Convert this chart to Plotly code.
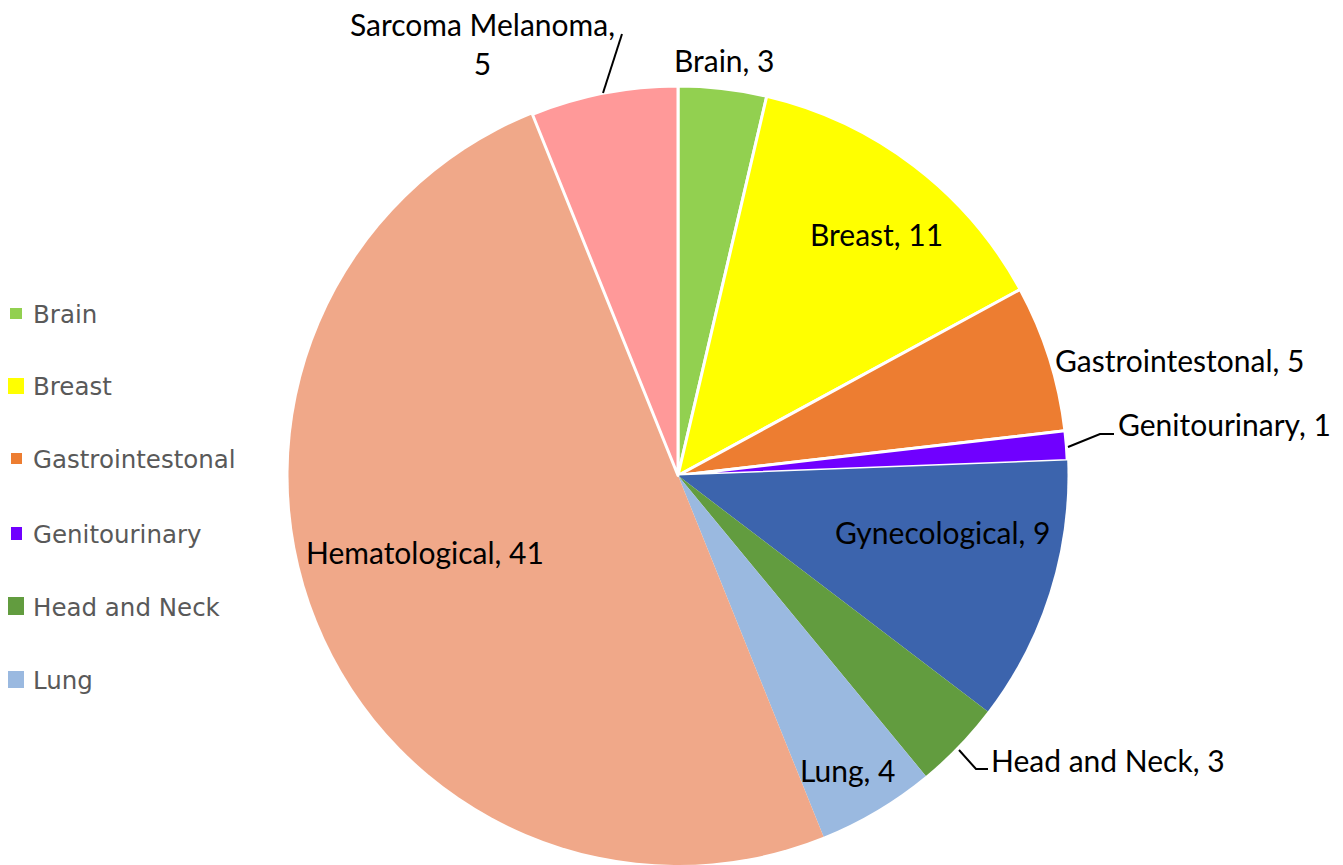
import plotly.graph_objects as go

# ---- data ----
labels = ["Brain", "Breast", "Gastrointestonal", "Genitourinary", "Gynecological",
          "Head and Neck", "Lung", "Hematological", "Sarcoma Melanoma"]
values = [3, 11, 5, 1, 9, 3, 4, 41, 5]
colors = ["#92D050", "#FFFF00", "#ED7D31", "#7000FF", "#3C64AD",
          "#629C3F", "#9AB9E0", "#F0A889", "#FF9999"]
legend_items = ["Brain", "Breast", "Gastrointestonal", "Genitourinary", "Head and Neck", "Lung"]

# ---- layout helpers (pixel geometry) ----
W, H = 1343, 865
def px(x):
    return x / W
def py(y):
    return 1 - y / H

line_widths = [3, 3, 3, 3, 0, 0, 0, 0, 3]

fig = go.Figure()
fig.add_trace(go.Pie(
    labels=labels, values=values, sort=False, direction="clockwise", rotation=0,
    marker=dict(colors=colors, line=dict(color="white", width=line_widths)),
    textinfo="none", hoverinfo="label+value", showlegend=False,
    domain=dict(x=[px(678 - 391), px(678 + 391)], y=[0, py(86)]),
))

# data label placement (pixel centres) and optional leader lines
label_pos = {
    "Brain": (724, 60),
    "Breast": (877, 234),
    "Gastrointestonal": (1179, 360),
    "Genitourinary": (1224, 424),
    "Gynecological": (942, 532),
    "Head and Neck": (1108, 760),
    "Lung": (848, 770),
    "Hematological": (425, 552),
    "Sarcoma Melanoma": (482, 43),
}
leaders = {
    "Sarcoma Melanoma": [(603, 93), (622, 34)],
    "Genitourinary": [(1068, 447), (1100, 434), (1114, 434)],
    "Head and Neck": [(959, 750), (976, 769), (988, 769)],
}

annotations = []
shapes = []
label_font = dict(family="Lato, 'Liberation Sans', sans-serif", size=30, color="black")
for lab, val in zip(labels, values):
    x, y = label_pos[lab]
    if lab == "Sarcoma Melanoma":
        txt = f"{lab},<br>{val}"
    else:
        txt = f"{lab}, {val}"
    annotations.append(dict(x=px(x), y=py(y), xref="paper", yref="paper", text=txt,
                            showarrow=False, xanchor="center", yanchor="middle",
                            font=label_font, align="center"))
for lab, pts in leaders.items():
    path = "M " + " L ".join(f"{px(a)},{py(b)}" for a, b in pts)
    shapes.append(dict(type="path", xref="paper", yref="paper", path=path,
                       line=dict(color="black", width=2)))

# custom legend (only listed entries)
legend_marker = {
    "Brain": (10, 308, 22, 319),
    "Breast": (8, 378, 24, 394),
    "Gastrointestonal": (11, 453, 22, 464),
    "Genitourinary": (11, 527, 22, 540),
    "Head and Neck": (8, 597, 24, 615),
    "Lung": (8, 671, 24, 688),
}
legend_font = dict(family="'DejaVu Sans', sans-serif", size=24.5, color="#595959")
for item in legend_items:
    x0, y0, x1, y1 = legend_marker[item]
    c = colors[labels.index(item)]
    shapes.append(dict(type="rect", xref="paper", yref="paper",
                       x0=px(x0), x1=px(x1), y0=py(y1), y1=py(y0),
                       fillcolor=c, line=dict(width=0)))
    annotations.append(dict(x=px(31), y=py((y0 + y1) / 2 + 1), xref="paper", yref="paper",
                            text=item, showarrow=False, xanchor="left", yanchor="middle",
                            font=legend_font))

fig.update_layout(
    width=W, height=H, margin=dict(l=0, r=0, t=0, b=0),
    paper_bgcolor="white", plot_bgcolor="white",
    annotations=annotations, shapes=shapes,
)
fig.write_html("out.html", config={"displayModeBar": False},
               post_script="document.body.style.margin='0';document.body.style.overflow='hidden';")
